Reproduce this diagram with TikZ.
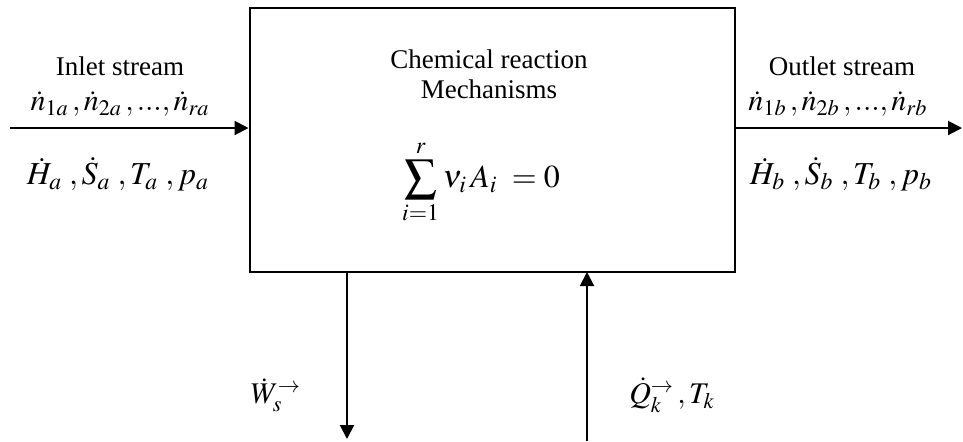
\documentclass[tikz,border=0pt]{standalone}
\usepackage{mathptmx}
\usepackage{fontspec}
\setmainfont{Liberation Serif}
\usetikzlibrary{arrows.meta}
\tikzset{
  flow/.style={line width=1pt,-{Triangle[length=7pt,width=7pt]}},
  lbl/.style={inner sep=0pt,font=\fontsize{13.5}{15}\selectfont,align=center},
  mlbl/.style={inner sep=0pt,font=\fontsize{15}{18}\selectfont},
  blbl/.style={inner sep=0pt,font=\fontsize{16}{19}\selectfont},
}
\newcommand{\tdots}{{.}{.}{.}}
\begin{document}
\begin{tikzpicture}[x=0.5pt,y=-0.5pt]
\useasboundingbox (0,0) rectangle (963,441);
\node[draw,line width=1pt,minimum width=242.5pt,minimum height=132pt,inner sep=0pt] (box) at (492,140) {};
% connector endpoints
\coordinate (inS) at (10,128);
\coordinate (inE) at (box.west |- inS);
\coordinate (outS) at (box.east |- inS);
\coordinate (outE) at (962,128);
\coordinate (wS) at (347,272);
\coordinate (wE) at (347,439);
\coordinate (qS) at (587,441);
\coordinate (qE) at (587,272);
\draw[flow] (inS) -- (inE);
\draw[flow] (outS) -- (outE);
\draw[flow] (wS) -- (wE);
\draw[flow] (qS) -- (qE);
% labels
\node[lbl] (inlet) at (120,66) {Inlet stream};
\node[mlbl] (nin) at (120,104) {$\dot{n}_{1a}\,,\dot{n}_{2a}\,,\tdots,\dot{n}_{ra}$};
\node[blbl] (hin) at (118,174) {$\dot{H}_a\;,\dot{S}_a\;,T_a\;,p_a$};
\node[lbl] (chem) at (489,74) {Chemical reaction\\Mechanisms};
\node[blbl] (sum) at (481,182) {$\displaystyle\sum_{i=1}^{r}\nu_i\,A_i\;=0$};
\node[lbl] (outlet) at (842,66) {Outlet stream};
\node[mlbl] (nout) at (838,104) {$\dot{n}_{1b}\,,\dot{n}_{2b}\,,\tdots,\dot{n}_{rb}$};
\node[blbl] (hout) at (841,174) {$\dot{H}_b\;,\dot{S}_b\;,T_b\;,p_b$};
\node[mlbl] (w) at (276,395) {$\dot{W}_s^{\rightarrow}$};
\node[mlbl] (q) at (672,395) {$\dot{Q}_k^{\rightarrow}\,,T_k$};
\end{tikzpicture}
\end{document}
